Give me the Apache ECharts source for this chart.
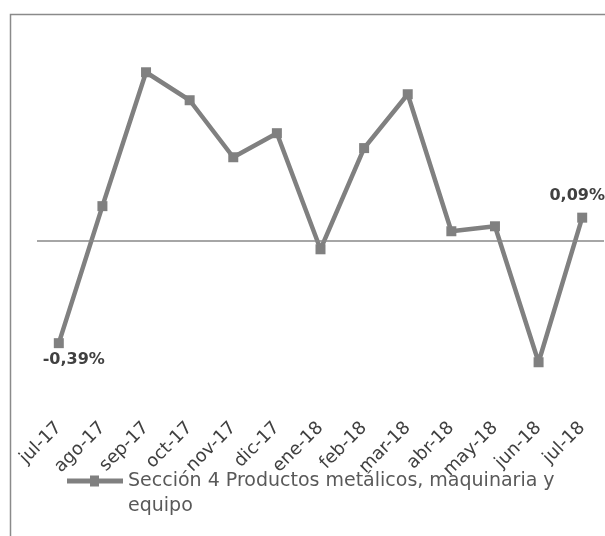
<!DOCTYPE html>
<html>
<head>
<meta charset="utf-8">
<script src="https://cdn.jsdelivr.net/npm/echarts@6/dist/echarts.min.js"></script>
<style>
html,body{margin:0;padding:0;background:#fff;}
#chart{width:605px;height:536px;}
</style>
</head>
<body>
<div id="chart"></div>
<script>
const categories = ['jul-17','ago-17','sep-17','oct-17','nov-17','dic-17','ene-18','feb-18','mar-18','abr-18','may-18','jun-18','jul-18'];
const values = [-0.39, 0.134, 0.646, 0.539, 0.321, 0.413, -0.031, 0.356, 0.562, 0.038, 0.057, -0.463, 0.09];
const seriesName = 'Sección 4 Productos metálicos, maquinaria y equipo';
const labeledIdx = [0, 12];

const font = '"DejaVu Sans", sans-serif';
const chart = echarts.init(document.getElementById('chart'), null, {renderer: 'canvas'});
chart.setOption({
  animation: false,
  backgroundColor: '#fff',
  graphic: [{
    type: 'rect', left: 8, top: 12, silent: true,
    shape: {x: 0, y: 0, width: 620, height: 560},
    style: {fill: 'none', stroke: '#8a8a8a', lineWidth: 1.5}
  }],
  grid: {left: 37, right: 1, top: 32, bottom: 536 - 385, containLabel: false},
  legend: {
    left: 62, top: 464,
    itemWidth: 56, itemHeight: 37, itemGap: 0,
    data: [{name: seriesName, icon: 'path://M0,3 H23 V0 H32 V3 H56 V8 H32 V11 H23 V8 H0 Z M0,37 L0.1,37 Z'}],
    itemStyle: {color: '#808080'},
    formatter: function () { return 'Sección 4 Productos metálicos, maquinaria y\nequipo'; },
    textStyle: {color: '#595959', fontSize: 19, fontFamily: font, lineHeight: 25}
  },
  xAxis: {
    type: 'category', data: categories, boundaryGap: true,
    axisLine: {show: false}, axisTick: {show: false},
    axisLabel: {rotate: 45, color: '#404040', fontSize: 18, fontFamily: font, margin: 40, interval: 0}
  },
  yAxis: {
    type: 'value', min: -0.55, max: 0.8, show: false,
    splitLine: {show: false}
  },
  series: [{
    name: seriesName, type: 'line', data: values.map((v, i) => ({
      value: v,
      label: labeledIdx.includes(i) ? {
        show: true,
        position: i === 0 ? 'bottom' : 'top',
        distance: i === 0 ? 4 : 9,
        offset: i === 0 ? [15, 0] : [-5, 0],
        formatter: (p) => p.value.toFixed(2).replace('.', ',') + '%',
        color: '#404040', fontSize: 16, fontWeight: 'bold', fontFamily: font
      } : {show: false}
    })),
    symbol: 'rect', symbolSize: 10,
    lineStyle: {color: '#808080', width: 4.5},
    itemStyle: {color: '#808080'},
    markLine: {
      silent: true, symbol: 'none', label: {show: false},
      lineStyle: {color: '#888888', width: 1.5, type: 'solid'},
      data: [{yAxis: 0}]
    }
  }]
});
</script>
</body>
</html>
